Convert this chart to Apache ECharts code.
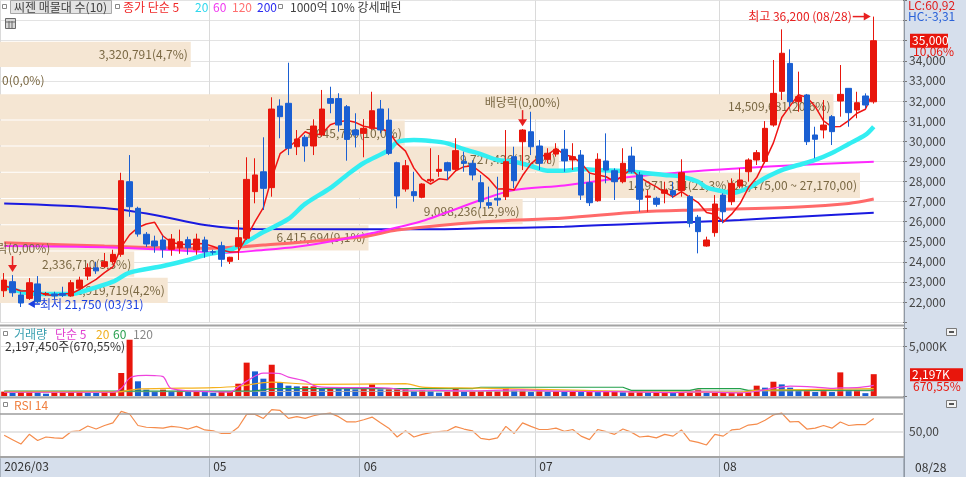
<!DOCTYPE html>
<html><head><meta charset="utf-8">
<script src="https://cdn.jsdelivr.net/npm/echarts@6/dist/echarts.min.js"></script>
<style>html,body{margin:0;padding:0;background:#fff}#c{width:966px;height:477px}</style>
</head><body><div id="c"></div>
<script>
// ---------------- data ----------------
const dates = ['03/27','03/30','03/31',
 '04/01','04/02','04/03','04/06','04/07','04/08','04/09','04/10','04/13','04/14','04/15','04/16','04/17','04/20','04/21','04/22','04/23','04/24','04/27','04/28','04/29','04/30',
 '05/04','05/06','05/07','05/08','05/11','05/12','05/13','05/14','05/15','05/18','05/19','05/20','05/21','05/22','05/26','05/27','05/28','05/29',
 '06/01','06/02','06/04','06/05','06/08','06/09','06/10','06/11','06/12','06/15','06/16','06/17','06/18','06/19','06/22','06/23','06/24','06/25','06/26','06/29','06/30',
 '07/01','07/02','07/03','07/06','07/07','07/08','07/09','07/10','07/13','07/14','07/15','07/16','07/20','07/21','07/22','07/23','07/24','07/27','07/28','07/29','07/30','07/31',
 '08/03','08/04','08/05','08/06','08/07','08/10','08/11','08/12','08/13','08/14','08/18','08/19','08/20','08/21','08/24','08/25','08/26','08/27','08/28'];
const blankSlots = ['', '', ''];
const xTickDates = ['03/27','05/04','06/01','07/01','08/03'];
const xTickLabels = ['2026/03','05','06','07','08'];

const opens  = [22560,23010,22350,22180,22900,22380,22400,22420,22300,22680,23290,23700,23760,24005,24373,27985,26660,25370,25035,25085,24620,24700,25100,24590,25085,24500,24800,24025,24750,25170,27490,28480,27690,31750,31885,29725,30195,29760,30310,32120,32120,31715,30560,30390,30640,31600,31050,28930,27620,27490,27210,28030,28500,28930,28600,29000,28900,27935,26940,27160,27240,29230,29975,30470,29760,29100,29360,29600,29065,29310,27935,27040,29015,28530,27985,29260,28320,27210,27160,27410,27540,27540,27240,26215,24785,25450,27320,26990,27770,28480,29065,28990,30805,32480,33870,31965,32300,30310,30560,31220,32000,32630,31550,32250,31960];
const closes = [23090,22460,21950,22960,22015,22420,22300,22330,22960,23090,23700,23550,24005,24370,28035,26740,25380,24885,24785,24620,25130,25000,24700,25130,24500,24480,24125,24225,25200,28100,28320,27655,31600,31220,29650,30110,29760,30755,31600,31885,30805,30090,30310,30640,31515,30560,29395,27275,28780,27290,27870,28100,28600,28530,29530,28900,28320,26990,26810,27075,28980,28035,30555,29725,28900,29400,29600,29020,29230,27320,26940,29100,28565,27985,28900,28480,27110,27275,26860,27570,27325,28430,25915,25500,25085,26875,26490,27900,28070,29065,29430,30640,32380,34375,31965,32215,29975,30095,30805,30475,32330,31420,31915,31800,35000];
const lows   = [22250,22260,21750,22100,21950,22300,22130,22250,22260,22600,23090,23400,23690,23900,24250,26240,25250,24740,24450,24200,24300,24400,24350,24350,24200,24350,23755,23890,24090,25085,26910,26580,27240,30145,29310,29310,28980,29310,30225,31390,30475,29030,29690,29200,30560,30390,29310,26660,27490,26990,27160,27950,28230,28070,28480,28480,28050,26660,26660,26780,27075,27655,28565,29310,28565,28900,29230,28480,28565,27075,26775,26990,27905,27075,27905,28400,26490,26490,26740,26910,27170,27240,25715,24420,24750,25250,25915,26820,27655,27985,28815,28900,30720,32050,31715,31465,29810,29150,30140,29810,31220,30720,31140,31635,31870];
const highs  = [23440,23340,22510,23190,23290,22500,22510,22760,23090,23260,23920,24000,24440,24600,28430,29310,26740,25480,25300,25300,25380,25600,25250,25400,25250,24600,25000,24250,26080,29200,29150,30195,32185,32085,33905,30555,30310,31090,32550,32710,32385,31800,31390,31100,32460,32050,31635,28980,29065,28480,27905,29650,29310,28980,30150,29480,29050,28320,27740,28230,30555,29725,30600,31465,30060,29650,29900,30555,29900,29560,28400,29400,30390,28650,29650,29725,28480,27570,27240,27985,27970,29100,27320,26330,25250,27320,27410,28150,28650,29150,29560,31000,34040,35565,34570,33460,32350,30720,32050,31300,33790,32630,32460,32380,36200];
// volume in thousand shares
const volumes = [440,300,400,440,370,235,370,370,440,440,335,300,400,400,2320,5670,1480,640,440,640,470,570,440,440,400,335,400,400,1240,3360,2480,1745,3150,1410,1040,970,970,970,770,900,800,740,670,700,1170,670,670,670,670,500,570,500,335,440,800,440,440,470,470,470,800,540,540,400,500,440,470,440,440,400,440,400,440,440,370,370,400,370,370,370,300,335,335,640,300,300,300,300,300,370,1040,840,1440,1170,840,570,570,400,570,400,2380,570,570,285.18,2197.45];

// moving averages
const ma5 = [22800,22700,22550,22560,22495,22361,22329,22405,22405,22620,22876,23126,23461,23743,24732,25340,25706,25882,25965,25282,24960,24884,24847,24916,24892,24762,24587,24492,24506,25226,25994,26700,28175,29379,29689,30047,30468,30299,30375,30822,30961,31027,30938,30746,30672,30623,30484,29877,29505,28660,28122,27863,28128,28078,28526,28732,28776,28454,28110,27619,27635,27578,28291,28874,29239,29323,29636,29329,29230,28914,28422,28322,28231,27982,28298,28606,28208,27950,27725,27459,27228,27492,27220,26948,26451,26361,25973,26370,26884,27680,28191,29021,29917,31178,31758,32315,32182,31725,31011,30713,30736,31025,31389,31588,32493];
const ma20Pts = [[0,22760],[2,22510],[4,22400],[8,22400],[10,22600],[13,23010],[15,23460],[19,23790],[22,24090],[24,24340],[27,24590],[29,25000],[31,25480],[34,26130],[36,26880],[39,27670],[41,28320],[43,28915],[46,29560],[47,29960],[49,30060],[51,30010],[53,29895],[55,29600],[57,29360],[59,29065],[61,28980],[63,28765],[65,28530],[67,28530],[69,28615],[71,28565],[75,28480],[79,28320],[81,28235],[83,27985],[84,27700],[86,27500],[87,27420],[89,27670],[91,28170],[93,28565],[95,28815],[97,29065],[99,29410],[101,29860],[103,30310],[104,30720]];
const ma60Pts = [[0,24785],[12,24720],[24,24500],[26,24440],[31,24590],[35,24750],[40,25085],[44,25430],[50,26030],[57,27075],[61,27570],[67,27800],[75,28235],[83,28520],[88,28650],[95,28815],[104,28980]];
const ma120Pts = [[0,24950],[12,24785],[24,24670],[31,24835],[43,25250],[47,25580],[57,25980],[67,26180],[76,26480],[83,26580],[95,26725],[101,26900],[104,27120]];
const ma200Pts = [[0,26900],[12,26675],[18,26330],[24,25830],[30,25630],[50,25615],[57,25665],[67,25745],[75,25880],[83,25995],[88,26080],[95,26245],[104,26440]];

const volMa5Pts = [[0,380],[13,380],[14,750],[15,1800],[16,2050],[17,2080],[18,2050],[19,1950],[20,750],[25,430],[27,400],[28,900],[29,1500],[31,2300],[32,2300],[33,2250],[34,1900],[36,1500],[37,1070],[38,900],[44,840],[46,800],[48,600],[52,570],[55,520],[57,530],[60,600],[62,620],[65,510],[70,450],[75,420],[80,350],[83,420],[88,320],[90,480],[92,800],[94,1000],[97,900],[99,760],[100,820],[102,840],[104,1070]];
const volMa20Pts = [[0,420],[13,420],[14,450],[16,700],[25,840],[28,980],[32,1400],[37,1170],[48,1240],[50,900],[57,800],[68,600],[79,400],[88,400],[90,570],[97,670],[104,740]];
const volMa60Pts = [[0,500],[30,520],[32,740],[56,740],[57,880],[74,880],[75,570],[82,570],[83,740],[88,740],[89,570],[104,600]];
const volMa120Pts = [[0,420],[50,470],[104,520]];

const rsi14 = [46,41,36,47,40,44,43,42.5,50,51,56.5,53,57,60,73,70,57,55,54.5,54,56,55,53,56,52,51,48,48,55,69.6,69.6,65,75,74,65,67,65,68,70,71,67,61,61,63.5,66.5,60,54,44,51,44,47,49,50,51,55.7,53,51,42.5,41,43,56,48,60,56,52.5,52.5,54,50.5,52.5,45,41,52.5,50,47,53,49.5,44,45,43,47,45,52,40,38,35,47,45,52,53,57.5,58.5,63,69,71,61,61.5,53,54,57,54,61,57,58,58,65];
const rsiLevels = [70, 50];

// volume-profile (매물대) bands
const bandEdges = [21950,23255,24560,25865,27170,28475,29780,31085,32390,33695,35000];
const bandVolumes = [2919719,2336710,6415694,9098236,14971314,9727426,7045780,14509681,0,3320791];

const exDivDates = ['03/30','06/29'];

// ---------------- helpers ----------------
const FONT = '"Noto Sans CJK KR","Noto Sans",sans-serif';
const RED = '#e8160c', BLUE = '#1a5fd2';
const fmt = v => Math.round(v).toLocaleString('en-US');
const dec = (v, d) => v.toFixed(d).replace('.', ',');
const kr2 = v => fmt(Math.floor(v)) + ',' + v.toFixed(2).split('.')[1];

const cats = dates.concat(blankSlots);
const tickIdx = new Set(xTickDates.map(d => dates.indexOf(d)));
const tickText = {};
xTickDates.forEach((d, k) => { tickText[dates.indexOf(d)] = xTickLabels[k]; });
const isTick = i => tickIdx.has(i);

const candleData = dates.map((d, i) => [opens[i], closes[i], lows[i], highs[i]]);
const bandSum = bandVolumes.reduce((a, b) => a + b, 0);
const bandMax = Math.max(...bandVolumes);
const bandData = bandVolumes.map((v, k) => [bandEdges[k], bandEdges[k + 1], v]);
function bandLabel(k) {
  const v = bandVolumes[k];
  let s = fmt(v) + '(' + dec(v / bandSum * 100, 1) + '%)';
  if (v === bandMax) s += '(' + kr2(bandEdges[k + 1]) + ' ~ ' + kr2(bandEdges[k]) + ')';
  return s;
}

// layout (pixels)
const GL = 0, GR = 63;
const priceGrid = {left: GL, right: GR, top: 0.5, height: 321.6};
const volGrid = {left: GL, right: GR, top: 328, height: 68};
const rsiGrid = {left: GL, right: GR, top: 396.3, height: 61.95};

function catAxis(grid, showLabels) {
  return {
    type: 'category', gridIndex: grid, data: cats, boundaryGap: true,
    axisLine: {show: false},
    axisTick: showLabels ? {show: true, interval: isTick, length: 19, lineStyle: {color: '#a9b3bf'}} : {show: false},
    axisLabel: showLabels ? {show: true, interval: isTick, formatter: (v, i) => tickText[i] || '', align: 'left',
      color: '#333', fontSize: 12, fontFamily: FONT, margin: 2} : {show: false},
    splitLine: {show: true, interval: isTick, lineStyle: {color: '#dadada', width: 1}}
  };
}
const axisLabelBase = {color: '#444', fontSize: 12, fontFamily: FONT, margin: 6};

const chart = echarts.init(document.getElementById('c'), null, {renderer: 'canvas'});
chart.setOption({
  animation: false,
  backgroundColor: '#ffffff',
  grid: [priceGrid, volGrid, rsiGrid, priceGrid],
  xAxis: [catAxis(0, false), catAxis(1, false), catAxis(2, true),
    {type: 'value', gridIndex: 3, min: 0, max: 15720000, show: false}],
  yAxis: [
    {type: 'value', gridIndex: 0, position: 'right', min: 21000, max: 37000, interval: 1000,
      axisLine: {show: false}, axisTick: {show: true, length: 4, lineStyle: {color: '#777'}},
      axisLabel: Object.assign({}, axisLabelBase, {formatter: v => (v >= 22000 && v <= 34000) ? fmt(v) : ''}),
      splitLine: {show: true, lineStyle: {color: '#e3e3e3'}}},
    {type: 'value', gridIndex: 1, position: 'right', min: 0, max: 6850, interval: 5000,
      axisLine: {show: false}, axisTick: {show: true, length: 4, lineStyle: {color: '#777'}},
      axisLabel: Object.assign({}, axisLabelBase, {formatter: v => v === 5000 ? fmt(v) + 'K' : ''}),
      splitLine: {show: true, lineStyle: {color: '#e3e3e3'}}},
    {type: 'value', gridIndex: 2, position: 'right', min: 20, max: 90, interval: 10,
      axisLine: {show: false}, axisTick: {show: false},
      axisLabel: Object.assign({}, axisLabelBase, {formatter: v => v === 50 ? dec(v, 2) : ''}),
      splitLine: {show: false}},
    {type: 'value', gridIndex: 3, min: 21000, max: 37000, show: false}
  ],
  series: [
    {type: 'custom', xAxisIndex: 3, yAxisIndex: 3, z: 1, silent: true, data: bandData,
      renderItem: (params, api) => {
        const lo = api.value(0), hi = api.value(1), v = api.value(2);
        const a = api.coord([0, hi]), b = api.coord([v, lo]);
        const ch = [];
        if (v > 0) ch.push({type: 'rect', shape: {x: a[0], y: a[1] + 1, width: b[0] - a[0], height: b[1] - a[1] - 1},
          style: {fill: '#f5e6d3'}});
        ch.push({type: 'text', x: v > 0 ? b[0] - 3 : a[0] + 2, y: (a[1] + b[1]) / 2 + 0.5,
          style: {text: bandLabel(params.dataIndex), fill: '#7a6843', fontSize: 12, fontFamily: FONT,
            align: v > 0 ? 'right' : 'left', verticalAlign: 'middle'}});
        return {type: 'group', children: ch};
      }},
    {type: 'line', xAxisIndex: 0, yAxisIndex: 0, data: ma200Pts, showSymbol: false, smooth: 0.3, z: 2,
      lineStyle: {color: '#1a1ae0', width: 2}},
    {type: 'line', xAxisIndex: 0, yAxisIndex: 0, data: ma120Pts, showSymbol: false, smooth: 0.3, z: 2,
      lineStyle: {color: '#ff6a6a', width: 3}},
    {type: 'line', xAxisIndex: 0, yAxisIndex: 0, data: ma60Pts, showSymbol: false, smooth: 0.3, z: 2,
      lineStyle: {color: '#ff28ff', width: 2}},
    {type: 'line', xAxisIndex: 0, yAxisIndex: 0, data: ma20Pts, showSymbol: false, smooth: 0.3, z: 2,
      lineStyle: {color: '#33eef2', width: 4.5}},
    {type: 'line', xAxisIndex: 0, yAxisIndex: 0, data: ma5, showSymbol: false, z: 2,
      lineStyle: {color: '#f01414', width: 1.5}},
    {type: 'candlestick', xAxisIndex: 0, yAxisIndex: 0, data: candleData, barWidth: 6, z: 3,
      itemStyle: {color: RED, color0: BLUE, borderColor: RED, borderColor0: BLUE, borderWidth: 1}},
    {type: 'bar', xAxisIndex: 1, yAxisIndex: 1, data: volumes, barWidth: 6, z: 2,
      itemStyle: {color: p => (p.dataIndex === 0 || volumes[p.dataIndex] >= volumes[p.dataIndex - 1]) ? RED : BLUE}},
    {type: 'line', xAxisIndex: 1, yAxisIndex: 1, data: volMa120Pts, showSymbol: false, z: 3, lineStyle: {color: '#a8a8a8', width: 1}},
    {type: 'line', xAxisIndex: 1, yAxisIndex: 1, data: volMa60Pts, showSymbol: false, z: 3, step: false, lineStyle: {color: '#22a04a', width: 1.2}},
    {type: 'line', xAxisIndex: 1, yAxisIndex: 1, data: volMa20Pts, showSymbol: false, smooth: 0.3, z: 3, lineStyle: {color: '#f5b21e', width: 1.2}},
    {type: 'line', xAxisIndex: 1, yAxisIndex: 1, data: volMa5Pts, showSymbol: false, smooth: 0.3, z: 3, lineStyle: {color: '#ee44dd', width: 1.2}},
    {type: 'line', xAxisIndex: 2, yAxisIndex: 2, data: rsi14, showSymbol: false, z: 3,
      lineStyle: {color: '#f58c4c', width: 1.2},
      markLine: {silent: true, symbol: 'none', label: {show: false},
        data: rsiLevels.map((lv, k) => ({yAxis: lv, lineStyle: {color: k === 0 ? '#9c9c9c' : '#dddddd', type: 'solid', width: 1.5}}))}}
  ]
});

// ---------------- overlays (text, annotations, panels) ----------------
const px = (i, v) => chart.convertToPixel({xAxisIndex: 0, yAxisIndex: 0}, [i, v]);
const pxVol = (i, v) => chart.convertToPixel({xAxisIndex: 1, yAxisIndex: 1}, [i, v]);
const T = (x, y, text, fill, extra) => Object.assign({type: 'text', x, y, z: 20,
  style: Object.assign({text, fill, fontSize: 12, fontFamily: FONT, align: 'left', verticalAlign: 'middle'}, extra || {})});
const sq = (x, y) => ({type: 'rect', z: 20, shape: {x: x + 0.5, y: y + 0.5, width: 4, height: 4}, style: {fill: '#fff', stroke: '#888', lineWidth: 1}});
const L = (x1, y1, x2, y2, stroke, w, z) => ({type: 'line', z: z || 15, shape: {x1, y1, x2, y2}, style: {stroke, lineWidth: w || 1}});

const G = [];
// right axis panel and bottom axis strip
G.push({type: 'rect', z: -10, shape: {x: 904, y: 0, width: 62, height: 477}, style: {fill: '#d6dfec'}});
G.push({type: 'rect', z: -10, shape: {x: 0, y: 458, width: 966, height: 19}, style: {fill: '#d6dfec'}});
G.push(L(904.5, 0, 904.5, 477, '#8f98a4', 1, 16));
// pane separators
G.push(L(0, 325.5, 904, 325.5, '#a4a4a4', 2));
G.push(L(0, 397.5, 904, 397.5, '#a4a4a4', 2));
G.push(L(0, 457, 904, 457, '#a4a4a4', 2));

// title legend
G.push(sq(2, 4));
G.push({type: 'rect', z: 19, shape: {x: 10.5, y: 0.5, width: 101, height: 13}, style: {fill: '#e4e4e4', stroke: '#a8a8a8', lineWidth: 1}});
G.push(T(14, 7, '씨젠 매물대 수(10)', '#404040'));
G.push(sq(115, 4));
G.push(T(123, 7, '종가 단순 5', '#f02828'));
G.push(T(195, 7, '20', '#2ed8ee'));
G.push(T(213, 7, '60', '#f038f0'));
G.push(T(232, 7, '120', '#ff7070'));
G.push(T(257, 7, '200', '#2a2af0'));
G.push(sq(278, 4));
G.push(T(290, 7, '1000억 10% 강세패턴', '#404040'));
G.push({type: 'rect', z: 20, shape: {x: 5.5, y: 18.5, width: 10, height: 10}, style: {fill: '#d8d8d8', stroke: '#6a6a6a', lineWidth: 1}});
G.push(L(6, 22, 15, 22, '#6a6a6a', 1, 21));
G.push(L(9, 21, 9, 28, '#6a6a6a', 1, 21));
G.push(L(12, 21, 12, 28, '#6a6a6a', 1, 21));

// right-side price info
const last = dates.length - 1;
const lastClose = closes[last], prevClose = closes[last - 1];
const maxHigh = Math.max(...highs), minLow = Math.min(...lows);
const hiIdx = highs.indexOf(maxHigh), loIdx = lows.indexOf(minLow);
G.push(T(908, 5, 'LC:' + dec((lastClose / minLow - 1) * 100, 2), '#e02020'));
G.push(T(908, 16, 'HC:' + dec((lastClose / maxHigh - 1) * 100, 2), '#2a62d8'));
const pc = px(last, lastClose);
G.push({type: 'rect', z: 20, shape: {x: 910, y: pc[1] - 7, width: 38, height: 14}, style: {fill: RED}});
G.push(T(912, pc[1], fmt(lastClose), '#ffffff'));
G.push(T(913, pc[1] + 11, dec((lastClose / prevClose - 1) * 100, 2) + '%', RED));

// max / min annotations
const ph = px(hiIdx, maxHigh);
G.push(T(ph[0] - 22, ph[1], '최고 ' + fmt(maxHigh) + ' (' + dates[hiIdx] + ')', '#e82020', {align: 'right'}));
G.push(L(ph[0] - 21, ph[1], ph[0] - 9, ph[1], '#e82020', 1.5));
G.push({type: 'polygon', z: 15, shape: {points: [[ph[0] - 3, ph[1]], [ph[0] - 10, ph[1] - 4], [ph[0] - 10, ph[1] + 4]]}, style: {fill: '#e82020'}});
const pl = px(loIdx, minLow);
G.push({type: 'polygon', z: 15, shape: {points: [[pl[0] + 7, pl[1] - 3], [pl[0] + 14, pl[1] - 7], [pl[0] + 14, pl[1] + 1]]}, style: {fill: '#1a3fe0'}});
G.push(L(pl[0] + 13, pl[1] - 3, pl[0] + 19, pl[1] - 3, '#1a3fe0', 1.5));
G.push(T(pl[0] + 19, pl[1] - 3, '최저 ' + fmt(minLow) + ' (' + dates[loIdx] + ')', '#1a3fe0'));

// ex-dividend markers
exDivDates.forEach(d => {
  const i = dates.indexOf(d);
  const p = px(i, highs[i]);
  const tip = p[1] - 3;
  G.push(L(p[0], tip - 16, p[0], tip - 6, '#e82020', 1.5));
  G.push({type: 'polygon', z: 15, shape: {points: [[p[0] - 4.5, tip - 7], [p[0] + 4.5, tip - 7], [p[0], tip]]}, style: {fill: '#e82020'}});
  G.push(T(p[0], tip - 24, '배당락(0,00%)', '#7a6843', {align: 'center'}));
});

// volume legend and info
const lastVol = volumes[last], prevVol = volumes[last - 1];
const volPct = dec((lastVol / prevVol - 1) * 100, 2);
G.push(sq(3, 331));
G.push(T(14, 334, '거래량', '#3a9fb0'));
G.push(T(55, 334, '단순 5', '#e040d0'));
G.push(T(96, 334, '20', '#f0b020'));
G.push(T(113, 334, '60', '#2aa050'));
G.push(T(133, 334, '120', '#888888'));
G.push(T(5, 346, fmt(lastVol * 1000) + '주(' + volPct + '%)', '#333333'));
const pv = pxVol(last, lastVol);
G.push({type: 'rect', z: 20, shape: {x: 910, y: pv[1] - 6, width: 53, height: 13}, style: {fill: RED}});
G.push(T(912, pv[1] + 0.5, fmt(lastVol) + 'K', '#ffffff'));
G.push(T(913, pv[1] + 12, volPct + '%', RED));

// RSI legend
G.push(sq(3, 402));
G.push(T(14, 405, 'RSI 14', '#f08040'));

// small panel buttons
[328, 400].forEach(y => {
  G.push({type: 'rect', z: 20, shape: {x: 946.5, y: y + 0.5, width: 10, height: 7}, style: {fill: '#f4f4f4', stroke: '#7a7a7a', lineWidth: 1}});
  G.push({type: 'rect', z: 21, shape: {x: 949, y: y + 3, width: 5, height: 2}, style: {fill: '#555'}});
});

// last date on the axis strip
G.push(T(915, 467, dates[last], '#333333'));

chart.setOption({graphic: G});
</script>
</body></html>
